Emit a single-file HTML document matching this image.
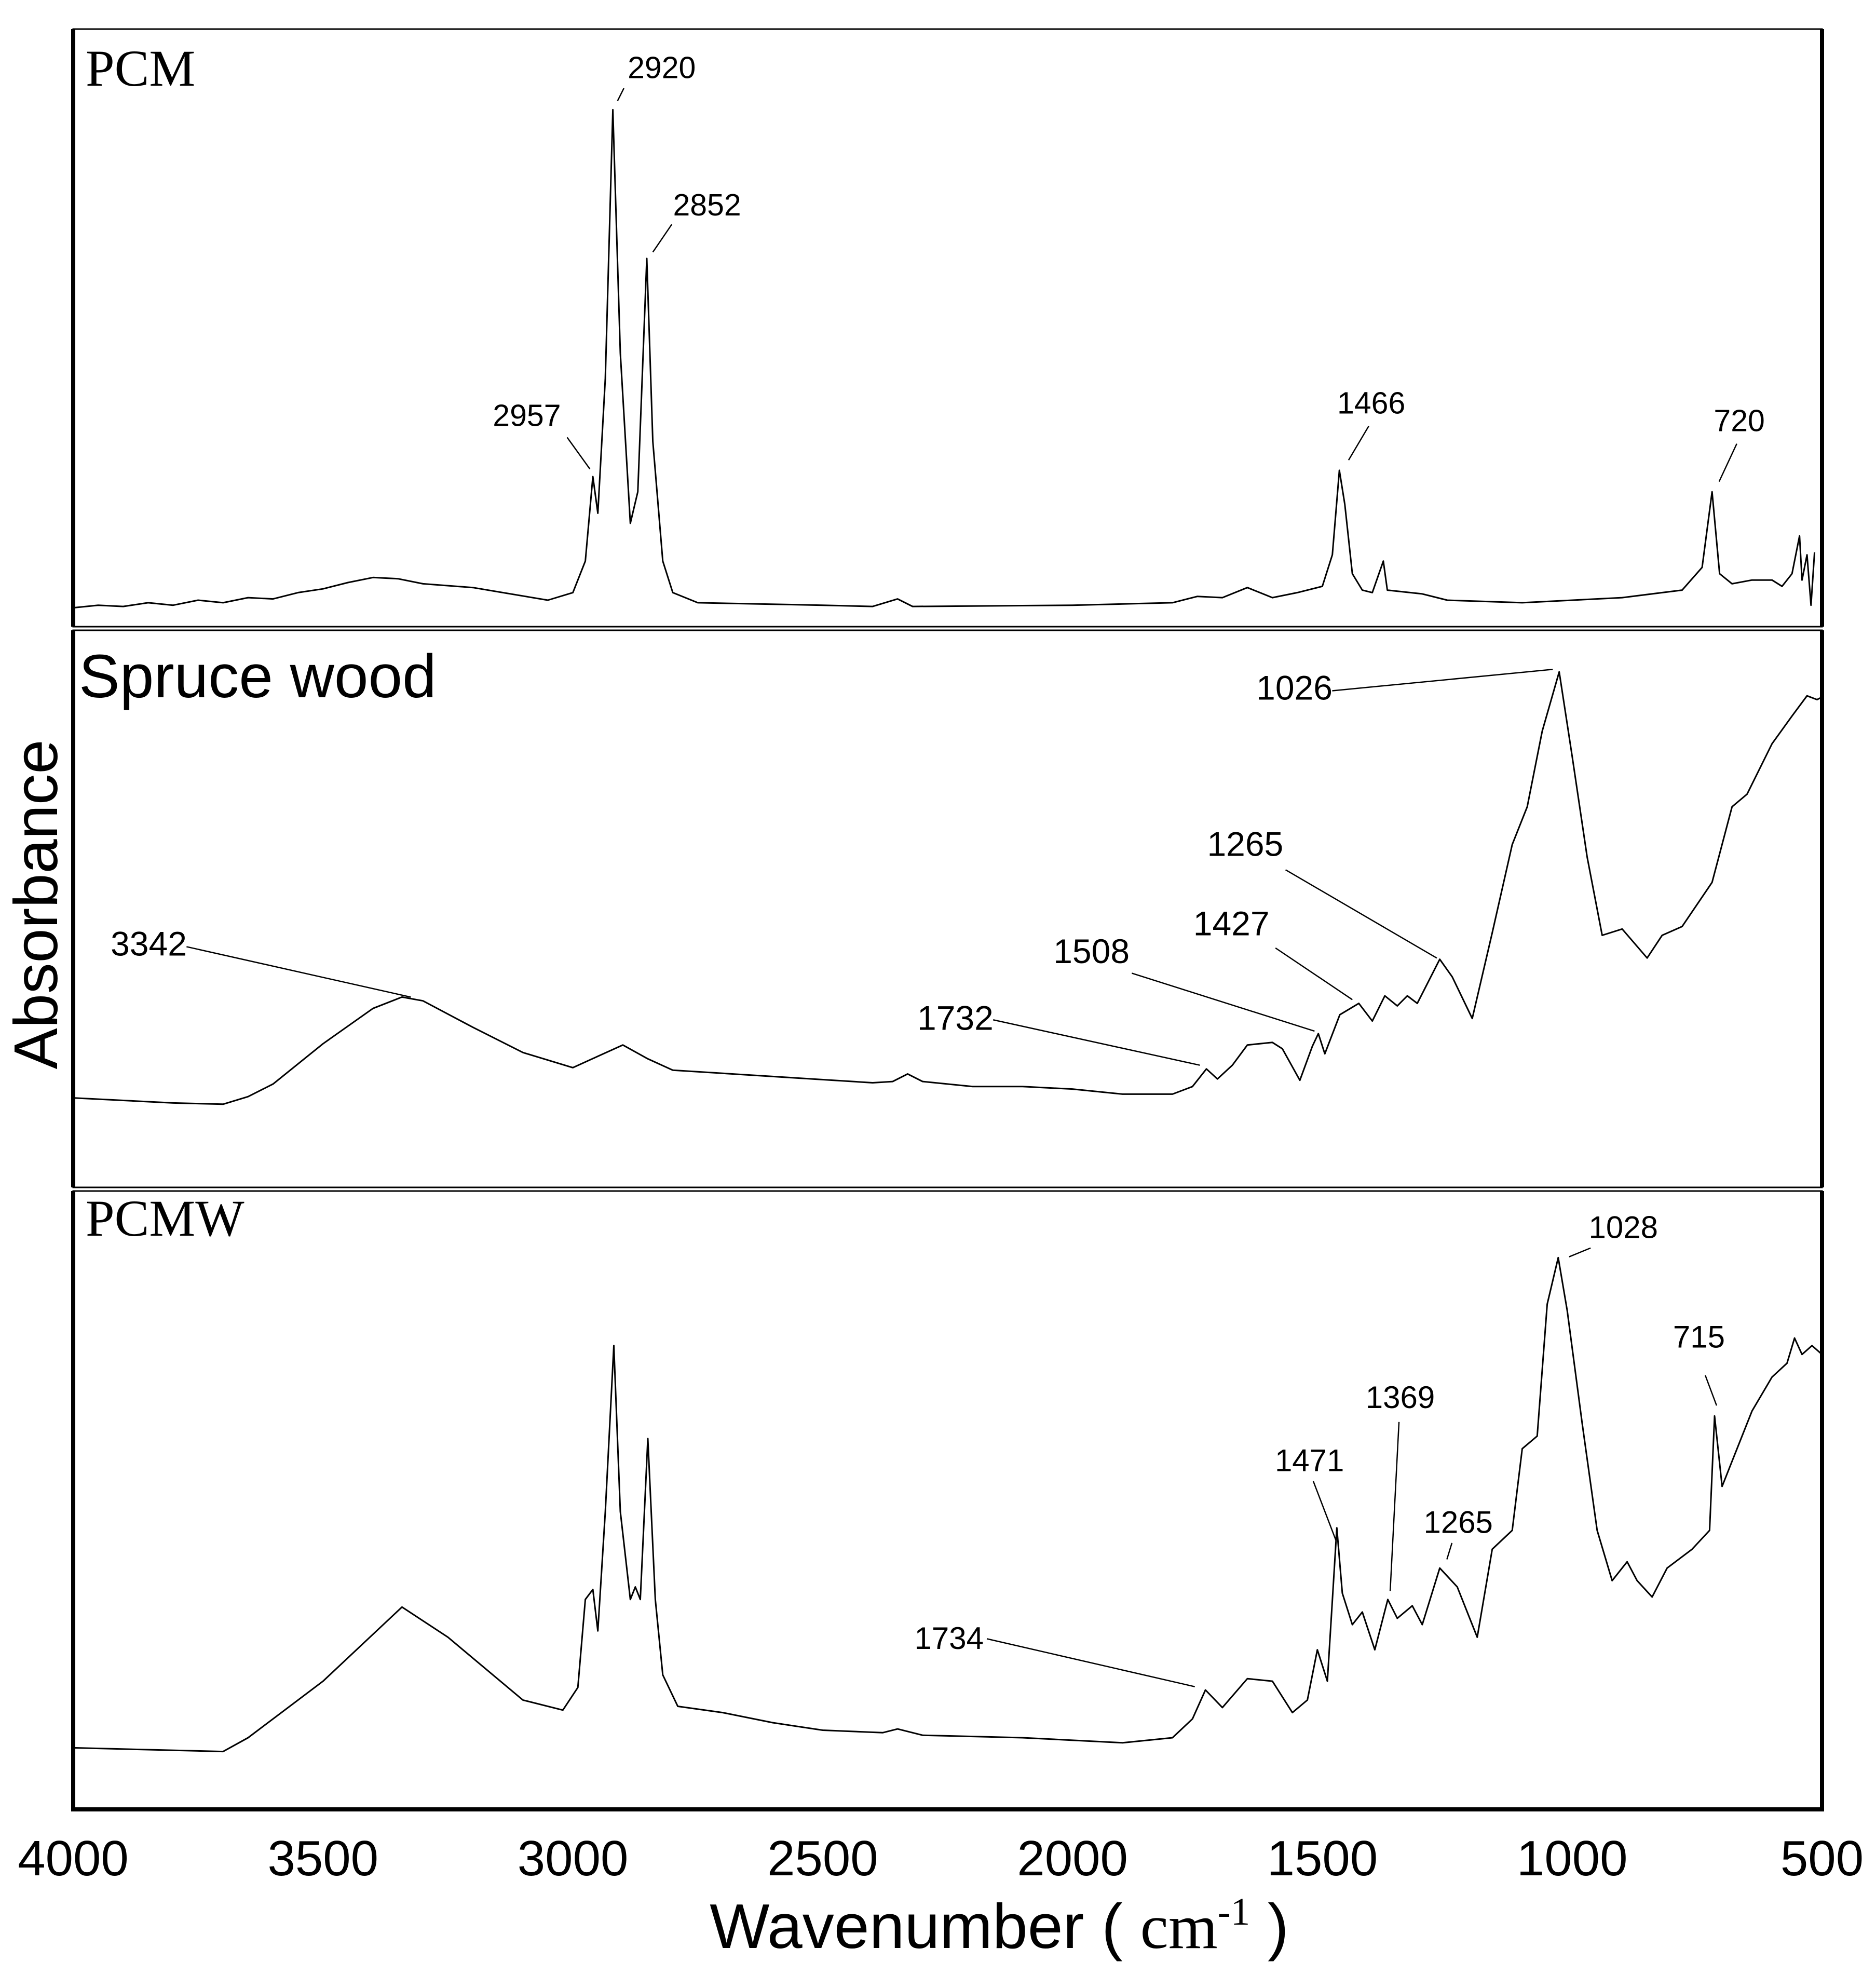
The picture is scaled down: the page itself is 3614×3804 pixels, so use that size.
<!DOCTYPE html>
<html><head><meta charset="utf-8"><style>
html,body{margin:0;padding:0;background:#fff;}
svg{display:block;}
text{font-family:"Liberation Sans",sans-serif;fill:#000;}
.serif{font-family:"Liberation Serif",serif;}
</style></head><body>
<svg id="chart" width="3614" height="3804" viewBox="0 0 3614 3804" xmlns="http://www.w3.org/2000/svg">
<g id="frames"></g>
<g id="series"></g>
<g id="annots"></g>
<g id="axis"></g>
<text x="0" y="0" font-size="119" text-anchor="middle" transform="translate(110,1742) rotate(-90)">Absorbance</text>
<text class="serif" x="165" y="165" font-size="100">PCM</text>
<text x="152" y="1343" font-size="118">Spruce wood</text>
<text class="serif" x="165" y="2380" font-size="100">PCMW</text>
<text x="1925" y="3752" font-size="122" text-anchor="middle">Wavenumber ( <tspan class="serif">cm</tspan><tspan class="serif" font-size="75" dy="-45">-1</tspan><tspan dy="45"> )</tspan></text>
</svg>
<script>
// x-axis
const xTicks = [4000, 3500, 3000, 2500, 2000, 1500, 1000, 500];
const xTickLabels = ["4000", "3500", "3000", "2500", "2000", "1500", "1000", "500"];
// PCM spectrum (wavenumber, absorbance a.u.)
const pcmWave = [4000,3950,3900,3850,3800,3750,3700,3650,3600,3550,3500,3450,3400,3350,3300,3200,3050,3000,2975,2960,2950,2935,2920,2905,2885,2870,2852,2840,2820,2800,2750,2500,2400,2350,2320,2000,1800,1750,1700,1650,1600,1550,1500,1480,1466,1455,1440,1420,1400,1378,1370,1300,1250,1100,900,780,740,720,705,680,640,600,580,560,545,540,530,522,515];
const pcmAbs = [15,17,16,19,17,21,19,23,22,27,30,35,39,38,34,31,21,27,52,119,90,197,410,217,82,107,292,147,52,27,19,17,16,22,16,17,19,24,23,31,23,27,32,57,124,97,42,29,27,52,29,26,21,19,23,29,47,107,42,34,37,37,32,42,72,37,57,17,59];
// Spruce wood spectrum
const woodWave = [4000,3800,3700,3650,3600,3500,3400,3342,3300,3200,3100,3000,2950,2900,2850,2800,2600,2400,2360,2330,2300,2200,2100,2000,1900,1800,1760,1732,1710,1680,1650,1600,1580,1545,1520,1508,1495,1465,1427,1400,1375,1350,1330,1310,1265,1240,1200,1160,1120,1090,1060,1026,1000,970,940,900,850,820,780,720,680,650,600,560,530,510,500];
const woodAbs = [71,67,66,72,82,114,142,151,148,127,107,95,104,113,102,93,88,83,84,90,84,80,80,78,74,74,80,94,86,97,113,115,110,85,112,122,106,137,146,132,152,144,152,146,181,167,134,202,272,302,362,409,342,262,200,205,182,200,207,242,302,312,352,374,390,387,389];
// PCMW spectrum
const pcmwWave = [4000,3700,3650,3500,3342,3250,3100,3020,2990,2975,2960,2950,2935,2918,2905,2885,2875,2865,2850,2835,2820,2790,2700,2600,2500,2380,2350,2300,2100,1900,1800,1760,1734,1700,1650,1600,1560,1530,1510,1490,1471,1460,1440,1420,1395,1369,1350,1320,1300,1265,1230,1190,1160,1120,1100,1070,1050,1028,1010,980,950,920,890,870,840,810,760,725,715,700,680,640,600,570,555,540,520,500];
const pcmwAbs = [49,46,57,102,161,137,87,79,97,167,175,142,237,369,237,167,177,167,295,167,107,82,77,69,63,61,64,59,57,53,57,72,95,81,104,102,77,87,127,102,224,172,147,157,127,167,152,162,147,192,177,137,207,222,287,297,402,439,397,307,222,182,197,182,169,192,207,222,313,257,277,317,344,355,375,362,369,362];

const X0 = 141, X1 = 3510;
function xs(w){ return X0 + (4000 - w) / 3500 * (X1 - X0); }
const panels = [
  {name:'pcm', top:56, bot:1207, vmax:474, wave:pcmWave, abs:pcmAbs},
  {name:'spruce-wood', top:1214, bot:2287, vmax:442, wave:woodWave, abs:woodAbs},
  {name:'pcmw', top:2294, bot:3485, vmax:492, wave:pcmwWave, abs:pcmwAbs}
];
const NS = 'http://www.w3.org/2000/svg';
function mk(tag, attrs, parent){
  const e = document.createElementNS(NS, tag);
  for (const k in attrs) e.setAttribute(k, attrs[k]);
  parent.appendChild(e); return e;
}
const frames = document.getElementById('frames');
const series = document.getElementById('series');
panels.forEach(p => {
  const ys = v => p.top + (1 - v / p.vmax) * (p.bot - p.top);
  const r = mk('rect', {x:X0, y:p.top, width:X1-X0, height:p.bot-p.top, fill:'none', stroke:'#000', 'stroke-width':3}, frames);
  
  
  const l = mk('line', {x1:X0, y1:p.top, x2:X0, y2:p.bot, stroke:'#000', 'stroke-width':8}, frames);
  
  
  const rr = mk('line', {x1:X1, y1:p.top, x2:X1, y2:p.bot, stroke:'#000', 'stroke-width':8}, frames);
  
  
  let d = '';
  p.wave.forEach((w, i) => { d += (i ? 'L' : 'M') + xs(w).toFixed(1) + ',' + ys(p.abs[i]).toFixed(1); });
  const path = mk('path', {d:d, fill:'none', stroke:'#000', 'stroke-width':3, 'stroke-linejoin':'round'}, series);
  
  
});
const axis = document.getElementById('axis');
const bl = mk('line', {x1:X0-4, y1:3485, x2:X1+4, y2:3485, stroke:'#000', 'stroke-width':8}, axis);


xTicks.forEach((t, i) => {
  const tx = mk('text', {x:xs(t), y:3612, 'font-size':96, 'text-anchor':'middle'}, axis);
  tx.textContent = xTickLabels[i];
  
  
});
// annotations: [label, text x, baseline y, leader x1,y1,x2,y2] in display units (scale 2.428)
const S = 2.428;
const annotations = [
  ['2920',525,62,495,70,490,80,59],['2852',561,171,533,178,518,200,59],['2957',418,338,450,347,468,372,59],
  ['1466',1088,328,1086,338,1070,365,59],['720',1380,342,1378,352,1364,382,59],
  ['3342',118,758,148,751,326,791,66],['1026',1027,555,1057,548,1232,531,66],['1265',988,679,1020,690,1140,760,66],
  ['1427',977,742,1012,752,1073,793,66],['1508',866,764,898,772,1043,818,66],['1732',758,817,788,809,952,845,66],
  ['1028',1288,982,1262,990,1245,997,60],['715',1348,1069,1353,1091,1362,1115,60],['1369',1111,1117,1110,1128,1103,1262,60],
  ['1471',1039,1167,1042,1175,1060,1222,60],['1265',1157,1216,1152,1224,1148,1237,60],['1734',753,1308,783,1300,948,1338,60]
];
const ann = document.getElementById('annots');
annotations.forEach(a => {
  const t = mk('text', {x:a[1]*S, y:a[2]*S, 'font-size':a[7], 'text-anchor':'middle'}, ann);
  t.textContent = a[0];
  
  
  const l = mk('line', {x1:a[3]*S, y1:a[4]*S, x2:a[5]*S, y2:a[6]*S, stroke:'#000', 'stroke-width':2.5}, ann);
  
  
});
</script>
</body></html>
